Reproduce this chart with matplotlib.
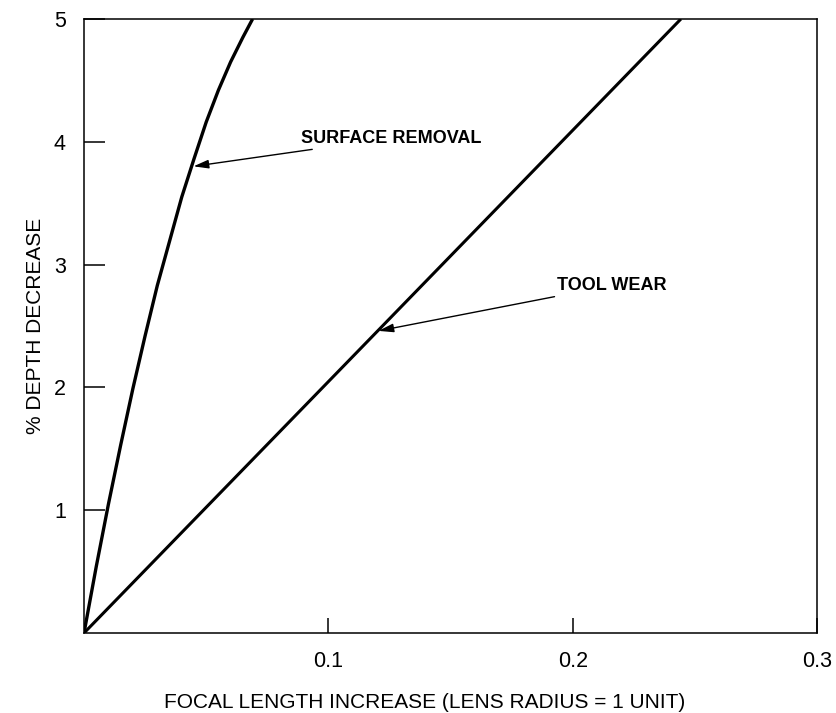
import matplotlib
matplotlib.use("Agg")
import matplotlib.pyplot as plt

plt.rcParams["font.family"] = ["Liberation Sans", "DejaVu Sans"]

# Focal length increase vs. % depth decrease
surface_x = [0.0, 0.005, 0.010, 0.015, 0.020, 0.025, 0.030, 0.035, 0.040,
             0.045, 0.050, 0.055, 0.060, 0.065, 0.069]
surface_y = [0.0, 0.54, 1.05, 1.53, 1.99, 2.42, 2.83, 3.19, 3.55,
             3.86, 4.16, 4.42, 4.65, 4.85, 5.0]

toolwear_x = [0.0, 0.2443]
toolwear_y = [0.0, 5.0]

x_ticks = [0.1, 0.2, 0.3]
x_ticklabels = ["0.1", "0.2", "0.3"]
y_ticks = [1, 2, 3, 4, 5]
y_ticklabels = ["1", "2", "3", "4", "5"]

fig = plt.figure(figsize=(8.36, 7.13), dpi=100)
ax = fig.add_axes([0.1005, 0.1122, 0.8768, 0.8612])

ax.plot(surface_x, surface_y, color="black", lw=2.4, solid_capstyle="butt",
        solid_joinstyle="round")
ax.plot(toolwear_x, toolwear_y, color="black", lw=2.2, solid_capstyle="butt")

ax.set_xlim(0, 0.3)
ax.set_ylim(0, 5)
ax.set_xticks(x_ticks)
ax.set_xticklabels(x_ticklabels)
ax.set_yticks(y_ticks)
ax.set_yticklabels(y_ticklabels)
ax.tick_params(axis="y", direction="in", length=15, width=1.1, pad=13, labelsize=15.5)
ax.tick_params(axis="x", direction="in", length=11, width=1.1, pad=13, labelsize=15.5)
for s in ax.spines.values():
    s.set_linewidth(1.1)

ax.set_xlabel("FOCAL LENGTH INCREASE (LENS RADIUS = 1 UNIT)", fontsize=15)
ax.xaxis.set_label_coords(0.465, -0.098)
ax.set_ylabel("% DEPTH DECREASE", fontsize=15)
ax.yaxis.set_label_coords(-0.053, 0.5)

arrow = dict(arrowstyle="-|>,head_length=0.7,head_width=0.2", color="black", lw=1.0,
             shrinkA=0, shrinkB=0)
ax.annotate("SURFACE REMOVAL", xy=(0.0448, 3.80), xytext=(0.0888, 4.03),
            fontsize=13, fontweight="bold", va="center", ha="left",
            arrowprops=arrow)
ax.annotate("TOOL WEAR", xy=(0.1205, 2.46), xytext=(0.1937, 2.83),
            fontsize=13, fontweight="bold", va="center", ha="left",
            arrowprops=arrow)

fig.savefig("out.png", dpi=100)
